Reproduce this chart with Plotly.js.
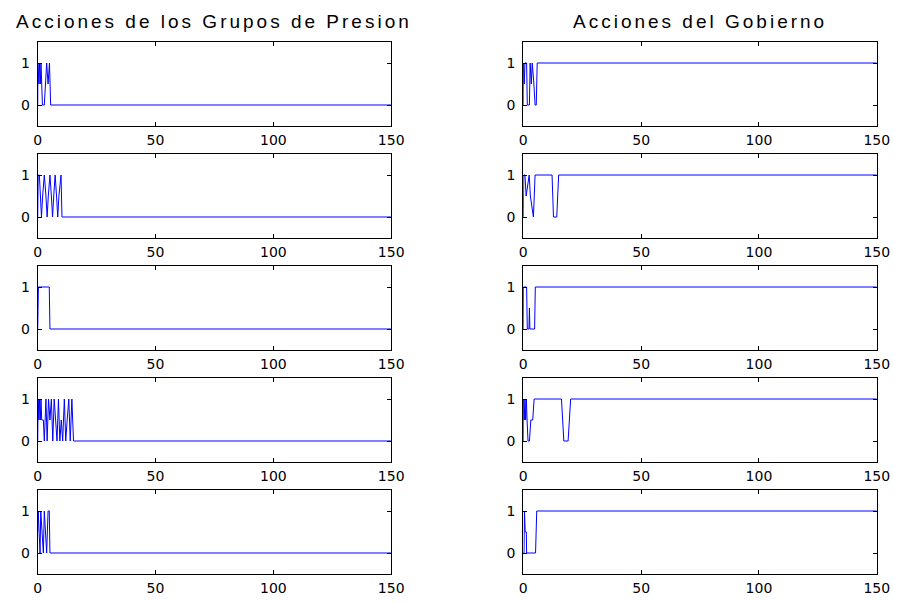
<!DOCTYPE html>
<html>
<head>
<meta charset="utf-8">
<script src="https://cdn.plot.ly/plotly-3.0.1.min.js"></script>
<style>
html,body{margin:0;padding:0;background:#fff;}
#chart{width:899px;height:603px;}
.annotation-text{letter-spacing:3px;}
</style>
</head>
<body>
<div id="chart"></div>
<script>
// ---- Data (time step, action value) ----
const columnTitles = ["Acciones de los Grupos de Presion", "Acciones del Gobierno"];
const xTicks = [0, 50, 100, 150];
const yTicks = [0, 1];

// Acciones de los Grupos de Presion
const presT1 = [0, 0.1, 0.5, 0.8, 1.1, 1.4, 1.7, 2.0, 2.8, 3.2, 3.8, 4.4, 5.0, 5.5, 150];
const presV1 = [0, 1, 0.5, 1, 0.5, 1, 0.5, 0, 0, 0.5, 1, 0.5, 1, 0, 0];
const presT2 = [0, 0.2, 0.7, 1.2, 1.6, 2.1, 2.8, 3.5, 4.0, 4.5, 5.2, 5.8, 6.3, 6.8, 7.4, 8.0, 8.5, 9.0, 9.9, 10.3, 150];
const presV2 = [0, 1, 1, 0.5, 0, 0.5, 1, 0.5, 0, 0.5, 1, 0.5, 0, 0.5, 1, 0.5, 0, 0.5, 1, 0, 0];
const presT3 = [0, 0.3, 4.9, 5.2, 150];
const presV3 = [0, 1, 1, 0, 0];
const presT4 = [0, 0.2, 0.5, 0.8, 1.1, 1.4, 1.7, 2.4, 2.8, 3.5, 4.0, 4.6, 5.2, 5.8, 6.4, 7.0, 7.6, 8.2, 8.8, 9.4, 10.0, 10.6, 11.3, 11.9, 12.5, 13.2, 13.8, 14.5, 15.2, 150];
const presV4 = [0, 1, 0.5, 1, 0.5, 1, 0.5, 0.5, 0, 1, 0, 1, 0.5, 1, 0, 1, 0.5, 0, 1, 0, 0.5, 0, 1, 0, 0.5, 1, 0, 1, 0, 0];
const presT5 = [0, 0.2, 0.6, 1.0, 1.3, 1.8, 2.4, 2.8, 3.3, 3.8, 4.4, 4.9, 5.2, 150];
const presV5 = [0.5, 1, 0.5, 0, 1, 0.5, 0, 1, 0.5, 0, 1, 1, 0, 0];

// Acciones del Gobierno
const gobT1 = [0, 0.1, 0.4, 0.7, 1.4, 1.7, 2.6, 2.9, 3.4, 3.8, 4.5, 5.0, 5.5, 5.9, 150];
const gobV1 = [0, 1, 0.5, 1, 1, 0, 0, 1, 0.5, 1, 0.5, 0, 0, 1, 1];
const gobT2 = [0, 0.2, 0.7, 1.2, 2.5, 3.0, 4.3, 5.0, 12.2, 12.8, 14.2, 15.0, 150];
const gobV2 = [0, 1, 1, 0.5, 1, 0.5, 0, 1, 1, 0, 0, 1, 1];
const gobT3 = [0, 0.1, 1.4, 1.7, 2.4, 2.6, 2.8, 4.8, 5.1, 150];
const gobV3 = [0, 1, 1, 0, 0, 0.5, 0, 0, 1, 1];
const gobT4 = [0, 0.1, 0.4, 0.7, 1.0, 1.3, 1.6, 2.0, 2.6, 3.2, 4.0, 4.6, 16.2, 16.6, 17.2, 19.0, 19.5, 20.1, 150];
const gobV4 = [0, 1, 0.5, 1, 0.5, 1, 0.5, 0, 0, 0.5, 0.5, 1, 1, 0.5, 0, 0, 0.5, 1, 1];
const gobT5 = [0, 0.3, 0.5, 0.8, 1.3, 1.4, 5.2, 5.4, 5.7, 150];
const gobV5 = [0, 0, 1, 0.5, 0.5, 0, 0, 0.5, 1, 1];

const presSeries = [[presT1, presV1], [presT2, presV2], [presT3, presV3], [presT4, presV4], [presT5, presV5]];
const gobSeries = [[gobT1, gobV1], [gobT2, gobV2], [gobT3, gobV3], [gobT4, gobV4], [gobT5, gobV5]];

// ---- Layout geometry (pixels) ----
const W = 899, H = 603;
const colLeft = [37.7, 523.3];
const colWidth = 353.5;
const rowTops = [42, 154, 266, 378, 490];
const rowHeight = 84;

const tickFont = {family: "DejaVu Sans, Arial, sans-serif", size: 14, color: "#000"};
const traces = [];
const layout = {
  width: W, height: H,
  margin: {l: 0, r: 0, t: 0, b: 0},
  paper_bgcolor: "#fff", plot_bgcolor: "#fff",
  showlegend: false,
  annotations: []
};

const columns = [presSeries, gobSeries];
let n = 0;
columns.forEach((series, c) => {
  series.forEach((s, r) => {
    n += 1;
    const xa = n === 1 ? "x" : "x" + n;
    const ya = n === 1 ? "y" : "y" + n;
    traces.push({
      x: s[0], y: s[1], type: "scatter", mode: "lines",
      line: {color: "#0000ff", width: 1},
      xaxis: xa, yaxis: ya, hoverinfo: "skip"
    });
    const xKey = n === 1 ? "xaxis" : "xaxis" + n;
    const yKey = n === 1 ? "yaxis" : "yaxis" + n;
    layout[xKey] = {
      domain: [colLeft[c] / W, (colLeft[c] + colWidth) / W],
      anchor: ya, range: [0, 150], tickvals: xTicks, ticktext: xTicks.map(String),
      ticks: "inside", ticklen: 4, tickcolor: "#000", tickwidth: 1,
      showline: true, linecolor: "#000", linewidth: 1, mirror: "ticks",
      showgrid: false, zeroline: false, tickfont: tickFont, ticklabelstandoff: 1,
      fixedrange: true
    };
    layout[yKey] = {
      domain: [1 - (rowTops[r] + rowHeight) / H, 1 - rowTops[r] / H],
      anchor: xa, range: [-0.5, 1.5], tickvals: yTicks, ticktext: yTicks.map(String),
      ticks: "inside", ticklen: 4, tickcolor: "#000", tickwidth: 1,
      showline: true, linecolor: "#000", linewidth: 1, mirror: "ticks",
      showgrid: false, zeroline: false, tickfont: tickFont, ticklabelstandoff: 4,
      fixedrange: true
    };
  });
  layout.annotations.push({
    text: columnTitles[c], xref: "paper", yref: "paper",
    x: (colLeft[c] + colWidth / 2) / W, y: 1 - 34 / H,
    xanchor: "center", yanchor: "bottom", showarrow: false,
    font: {family: "Liberation Sans, Arial, sans-serif", size: 19, color: "#000"}
  });
});

Plotly.newPlot("chart", traces, layout, {staticPlot: true, displayModeBar: false});
</script>
</body>
</html>
